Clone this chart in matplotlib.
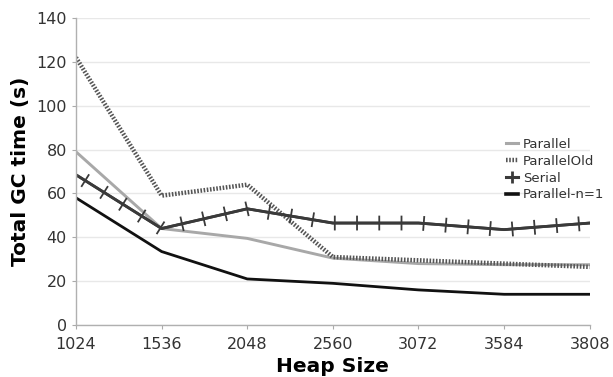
import matplotlib; matplotlib.use('Agg')
import matplotlib.pyplot as plt
import matplotlib.patheffects as pe
from matplotlib.lines import Line2D
import numpy as np

heap_sizes = ['1024', '1536', '2048', '2560', '3072', '3584', '3808']
parallel = [79, 44, 39.5, 30.5, 28, 27.5, 27.5]
parallel_old = [122, 59, 64, 31, 29.5, 28, 26.5]
serial = [68.5, 44, 53, 46.5, 46.5, 43.5, 46.5]
parallel_n1 = [58, 33.5, 21, 19, 16, 14, 14]

plt.rcParams['font.family'] = ['DejaVu Sans']

fig = plt.figure(figsize=(6.13, 3.77), dpi=100)
ax = fig.add_axes([0.124, 0.138, 0.838, 0.814])

x = np.arange(len(heap_sizes))

ax.plot(x, parallel, color='#a8a8a8', lw=2.1, label='Parallel')
ax.plot(x, parallel_old, color='#555555', lw=3.2, dashes=(0.36, 0.36),
        dash_capstyle='butt', label='ParallelOld')
# "+" decoration along the Serial line
tick_kw = dict(spacing=15.6, length=0.3, linewidth=1.3)
ax.plot(x, serial, color='#3a3a3a', lw=2.0, label='Serial',
        path_effects=[pe.withTickedStroke(angle=90, **tick_kw),
                      pe.withTickedStroke(angle=-90, **tick_kw)])
ax.plot(x, parallel_n1, color='#111111', lw=2.0, label='Parallel-n=1')

ax.set_xlim(0, len(heap_sizes) - 1)
ax.set_ylim(0, 140)
ax.set_xticks(x)
ax.set_xticklabels(heap_sizes)
ax.set_yticks(np.arange(0, 141, 20))
ax.tick_params(labelsize=11.5, labelcolor='#333333', length=3, width=0.8, color='#aaaaaa')
ax.tick_params(axis='x', pad=5.5)
ax.yaxis.grid(True, color='#e8e8e8', lw=1)
ax.set_axisbelow(True)
for s in ['top', 'right']:
    ax.spines[s].set_visible(False)
for s in ['left', 'bottom']:
    ax.spines[s].set_color('#b0b0b0')
    ax.spines[s].set_linewidth(1)

ax.set_ylabel('Total GC time (s)', fontsize=14.5, fontweight='bold', labelpad=5)
ax.set_xlabel('Heap Size', fontsize=14.5, fontweight='bold', labelpad=4)

handles = [
    Line2D([], [], color='#a8a8a8', lw=2.2),
    Line2D([], [], color='#555555', lw=3.2, dashes=(0.36, 0.36), dash_capstyle='butt'),
    Line2D([], [], color='#3a3a3a', lw=2.2, marker='|', markersize=9, markeredgewidth=2,
           markevery=[1]),
    Line2D([], [], color='#111111', lw=2.6),
]
leg = ax.legend(handles, ['Parallel', 'ParallelOld', 'Serial', 'Parallel-n=1'],
                loc='upper left', bbox_to_anchor=(0.825, 0.632), frameon=False,
                fontsize=9.5, handlelength=0.9, handletextpad=0.35, labelspacing=0.3,
                borderpad=0)
for t in leg.get_texts():
    t.set_color('#333333')

fig.savefig('out.png', dpi=100)
